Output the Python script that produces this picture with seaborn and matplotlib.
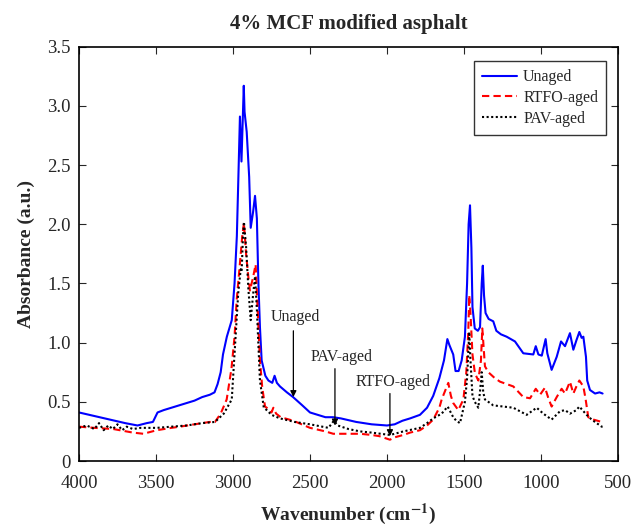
import numpy as np
import pandas as pd
import matplotlib
matplotlib.use("Agg")
import matplotlib.pyplot as plt
import seaborn as sns

# ---- data ----
unaged_wn = [4000, 3900, 3800, 3700, 3620, 3560, 3520, 3490, 3450, 3400, 3350, 3300, 3250, 3200, 3150, 3120,
             3100, 3080, 3065, 3040, 3008, 2990, 2975, 2965, 2955, 2945, 2930, 2925, 2911, 2895, 2885, 2870,
             2857, 2845, 2835, 2825, 2814, 2790, 2770, 2745, 2730, 2715, 2695, 2650, 2610, 2550, 2500, 2450,
             2400, 2350, 2300, 2200, 2100, 2000, 1950, 1900, 1850, 1786, 1740, 1700, 1660, 1630, 1608, 1595,
             1570, 1555, 1535, 1515, 1494, 1480, 1470, 1461, 1452, 1445, 1430, 1410, 1396, 1385, 1378, 1370,
             1360, 1340, 1310, 1290, 1260, 1223, 1169, 1115, 1050, 1034, 1017, 995, 970, 959, 931, 898, 870,
             844, 812, 790, 770, 751, 736, 725, 708, 700, 682, 649, 620, 600]
unaged_ab = [0.41, 0.38, 0.35, 0.32, 0.30, 0.32, 0.33, 0.41, 0.43, 0.45, 0.47, 0.49, 0.51, 0.54, 0.56, 0.58,
             0.65, 0.75, 0.90, 1.05, 1.19, 1.50, 1.90, 2.40, 2.91, 2.53, 3.17, 2.95, 2.78, 2.40, 1.97, 2.10,
             2.24, 2.05, 1.50, 1.13, 0.85, 0.72, 0.68, 0.66, 0.72, 0.66, 0.63, 0.58, 0.54, 0.47, 0.41, 0.39,
             0.37, 0.37, 0.36, 0.33, 0.31, 0.30, 0.31, 0.34, 0.36, 0.39, 0.45, 0.55, 0.70, 0.85, 1.03, 0.98,
             0.90, 0.76, 0.76, 0.85, 1.05, 1.50, 2.00, 2.16, 1.80, 1.30, 1.12, 1.10, 1.13, 1.50, 1.65, 1.40,
             1.25, 1.20, 1.18, 1.10, 1.07, 1.05, 1.01, 0.91, 0.90, 0.97, 0.90, 0.89, 1.03, 0.91, 0.77, 0.88, 1.01,
             0.97, 1.08, 0.94, 1.02, 1.09, 1.04, 1.05, 0.88, 0.68, 0.60, 0.57, 0.58, 0.57]

rtfo_wn = [4000, 3900, 3777, 3650, 3582, 3495, 3400, 3344, 3250, 3150, 3117, 3080, 3041, 3010, 2990, 2976,
           2955, 2940, 2929, 2915, 2900, 2890, 2870, 2853, 2845, 2825, 2810, 2792, 2770, 2750, 2738, 2720,
           2690, 2608, 2500, 2400, 2349, 2250, 2175, 2100, 2050, 1981, 1950, 1894, 1850, 1786, 1740, 1700,
           1660, 1645, 1602, 1585, 1570, 1537, 1504, 1485, 1472, 1466, 1458, 1445, 1429, 1407, 1390, 1381,
           1372, 1364, 1342, 1300, 1266, 1180, 1115, 1071, 1034, 1006, 974, 952, 931, 898, 866, 844, 812,
           790, 770, 751, 725, 710, 693, 660, 606, 600]
rtfo_ab = [0.29, 0.28, 0.27, 0.24, 0.23, 0.26, 0.28, 0.29, 0.31, 0.33, 0.33, 0.40, 0.52, 0.78, 1.05, 1.36,
           1.67, 1.90, 2.01, 1.75, 1.55, 1.44, 1.55, 1.66, 1.42, 0.85, 0.62, 0.46, 0.44, 0.41, 0.45, 0.40,
           0.37, 0.34, 0.28, 0.25, 0.23, 0.23, 0.23, 0.22, 0.21, 0.18, 0.20, 0.22, 0.24, 0.26, 0.30, 0.35,
           0.45, 0.52, 0.66, 0.55, 0.49, 0.43, 0.52, 0.75, 1.10, 1.40, 1.25, 0.90, 0.74, 0.68, 0.85, 1.12,
           0.95, 0.80, 0.75, 0.70, 0.67, 0.63, 0.54, 0.53, 0.61, 0.56, 0.62, 0.53, 0.46, 0.54, 0.61, 0.57, 0.67,
           0.57, 0.63, 0.68, 0.63, 0.52, 0.37, 0.35, 0.33, 0.33]

pav_wn = [4000, 3950, 3900, 3870, 3840, 3810, 3780, 3750, 3720, 3690, 3650, 3600, 3495, 3400, 3300, 3200,
          3117, 3060, 3008, 2987, 2966, 2950, 2944, 2935, 2929, 2915, 2900, 2885, 2870, 2857, 2845, 2825,
          2800, 2781, 2750, 2695, 2600, 2500, 2420, 2380, 2345, 2320, 2250, 2175, 2100, 1981, 1950, 1894,
          1786, 1740, 1700, 1645, 1606, 1590, 1570, 1550, 1526, 1494, 1480, 1466, 1458, 1445, 1430, 1407,
          1395, 1385, 1375, 1364, 1310, 1180, 1093, 1028, 985, 931, 877, 844, 812, 770, 751, 704, 671, 606, 600]
pav_ab = [0.28, 0.30, 0.27, 0.32, 0.26, 0.30, 0.27, 0.31, 0.26, 0.29, 0.27, 0.28, 0.28, 0.29, 0.30, 0.32,
          0.33, 0.40, 0.52, 0.97, 1.42, 1.62, 1.60, 1.90, 2.02, 1.81, 1.45, 1.19, 1.40, 1.56, 1.28, 0.68,
          0.45, 0.43, 0.39, 0.36, 0.33, 0.31, 0.29, 0.28, 0.34, 0.30, 0.27, 0.25, 0.24, 0.22, 0.23, 0.25,
          0.28, 0.32, 0.36, 0.40, 0.46, 0.42, 0.37, 0.34, 0.32, 0.50, 0.70, 1.09, 0.85, 0.55, 0.50, 0.45,
          0.60, 0.75, 0.58, 0.52, 0.47, 0.45, 0.39, 0.45, 0.40, 0.35, 0.42, 0.43, 0.40, 0.43, 0.46, 0.39, 0.35, 0.29, 0.29]

series_names = ["Unaged", "RTFO-aged", "PAV-aged"]
annot_labels = ["Unaged", "PAV-aged", "RTFO-aged"]
annot_text_xy = [(2597, 1.22), (2294, 0.88), (1959, 0.67)]
annot_arrow = [((2608, 1.10), (2608, 0.54)), ((2338, 0.78), (2338, 0.30)), ((1981, 0.57), (1981, 0.21))]
x_ticks = [4000, 3500, 3000, 2500, 2000, 1500, 1000, 500]
y_ticks = [0, 0.5, 1.0, 1.5, 2.0, 2.5, 3.0, 3.5]
y_tick_labels = ["0", "0.5", "1.0", "1.5", "2.0", "2.5", "3.0", "3.5"]

# ---- plot ----
sns.set_style("ticks")
plt.rcParams["font.family"] = ["Liberation Serif", "DejaVu Serif"]
plt.rcParams["mathtext.fontset"] = "stix"

fig = plt.figure(figsize=(6.34, 5.26), dpi=100)
ax = fig.add_axes([79 / 634, 1 - 461 / 526, (618 - 79) / 634, (461 - 46.7) / 526])

styles = [dict(color="#0000ff", linestyle="-", linewidth=1.5),
          dict(color="#ff0000", linestyle=(0, (3.5, 2)), linewidth=1.5),
          dict(color="#000000", linestyle=(0, (1, 1.2)), linewidth=1.5)]
datasets = [(unaged_wn, unaged_ab), (rtfo_wn, rtfo_ab), (pav_wn, pav_ab)]
for name, (wn, ab), st in zip(series_names, datasets, styles):
    df = pd.DataFrame({"wn": wn, "ab": ab})
    sns.lineplot(data=df, x="wn", y="ab", ax=ax, sort=False, label=name, **st)

ax.set_xlim(4000, 500)
ax.set_ylim(0, 3.5)
ax.set_xticks(x_ticks)
ax.set_xticklabels([str(t) for t in x_ticks])
ax.set_yticks(y_ticks)
ax.set_yticklabels(y_tick_labels)
ax.tick_params(direction="in", top=True, right=True, length=5, width=0.8, labelsize=13.5)
ax.tick_params(axis="x", pad=10)
ax.tick_params(axis="y", pad=6)
for sp in ax.spines.values():
    sp.set_linewidth(1.2)
    sp.set_color("black")

ax.set_title("4% MCF modified asphalt", fontsize=15, fontweight="bold", pad=13)
ax.set_xlabel("Wavenumber (cm$^{\\mathbf{-1}}$)", fontsize=14, fontweight="bold", labelpad=7)
ax.set_ylabel("Absorbance (a.u.)", fontsize=14, fontweight="bold", labelpad=9)

for lab, txy, (a0, a1) in zip(annot_labels, annot_text_xy, annot_arrow):
    ax.text(txy[0], txy[1], lab, ha="center", va="center", fontsize=11.5)
    ax.annotate("", xy=a1, xytext=a0,
                arrowprops=dict(arrowstyle="-|>", color="black", lw=0.9, mutation_scale=9, shrinkA=0, shrinkB=0))

leg = ax.legend(loc="upper right", bbox_to_anchor=(0.978, 0.965), fontsize=11.5, frameon=True, fancybox=False,
                edgecolor="black", handlelength=2.2, handletextpad=0.4, borderpad=0.5, labelspacing=0.3,
                borderaxespad=0)
leg.get_frame().set_linewidth(1.0)

fig.savefig("out.png", dpi=100)
